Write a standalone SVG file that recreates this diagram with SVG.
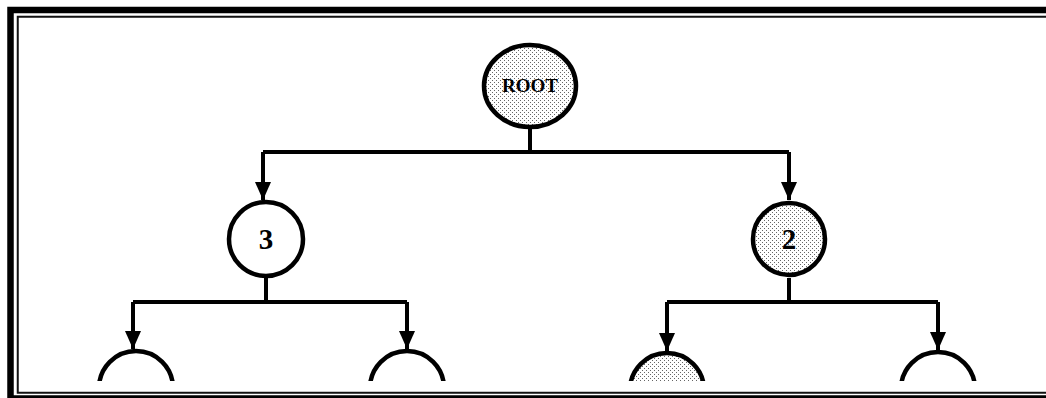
<svg xmlns="http://www.w3.org/2000/svg" width="1046" height="398" viewBox="0 0 1046 398">
  <style>
    .node { stroke: #000; stroke-width: 4.5; }
    .plain { fill: #fff; }
    .dotted { fill: url(#stipple); }
    .label { font-family: "Liberation Serif", "Times New Roman", serif; font-weight: bold; fill: #000; text-anchor: middle; }
    .wire { fill: none; stroke: #000; stroke-width: 4; }
  </style>
  <defs>
    <pattern id="stipple" width="4" height="4" patternUnits="userSpaceOnUse">
      <rect width="4" height="4" fill="#fff"/>
      <rect x="0" y="0" width="1" height="1" fill="#666"/>
      <rect x="2" y="2" width="1" height="1" fill="#666"/>
    </pattern>
    <marker id="arrow" viewBox="0 0 18 16" refX="18" refY="8" markerWidth="18" markerHeight="16" markerUnits="userSpaceOnUse" orient="auto">
      <path d="M0,0 L18,8 L0,16 z" fill="#000"/>
    </marker>
    <clipPath id="page">
      <rect x="20" y="19" width="1026" height="362"/>
    </clipPath>
  </defs>

  <rect width="1046" height="398" fill="#fff"/>

  <!-- double frame -->
  <rect x="10.5" y="10" width="1100" height="388.5" fill="none" stroke="#000" stroke-width="6.5"/>
  <rect x="17.75" y="16.75" width="1100" height="376" fill="none" stroke="#111" stroke-width="2"/>

  <g clip-path="url(#page)">
    <g id="connectors">
      <path class="wire" d="M530,127 V152"/>
      <path class="wire" d="M263,152 H789"/>
      <path class="wire" d="M263,152 V200" marker-end="url(#arrow)"/>
      <path class="wire" d="M789,152 V200" marker-end="url(#arrow)"/>

      <path class="wire" d="M266,278 V302"/>
      <path class="wire" d="M133,302 H407"/>
      <path class="wire" d="M133,302 V349" marker-end="url(#arrow)"/>
      <path class="wire" d="M407,302 V349" marker-end="url(#arrow)"/>

      <path class="wire" d="M789,278 V302"/>
      <path class="wire" d="M667,302 H938"/>
      <path class="wire" d="M667,302 V351" marker-end="url(#arrow)"/>
      <path class="wire" d="M938,302 V350" marker-end="url(#arrow)"/>
    </g>

    <g id="root">
      <ellipse class="node dotted" cx="530" cy="86" rx="46" ry="41"/>
      <text class="label" x="530" y="92" font-size="19" font-weight="normal">ROOT</text>
    </g>

    <g id="n3">
      <circle class="node plain" cx="266" cy="239" r="37"/>
      <text class="label" x="266" y="249" font-size="29">3</text>
    </g>

    <g id="n2">
      <circle class="node dotted" cx="789" cy="239" r="36"/>
      <text class="label" x="789" y="249" font-size="29">2</text>
    </g>

    <g id="n3a">
      <circle class="node plain" cx="136" cy="388" r="37"/>
    </g>

    <g id="n3b">
      <circle class="node plain" cx="407" cy="388" r="37"/>
    </g>

    <g id="n2a">
      <circle class="node dotted" cx="667" cy="390" r="37"/>
    </g>

    <g id="n2b">
      <circle class="node plain" cx="938" cy="389" r="37"/>
    </g>
  </g>
</svg>
